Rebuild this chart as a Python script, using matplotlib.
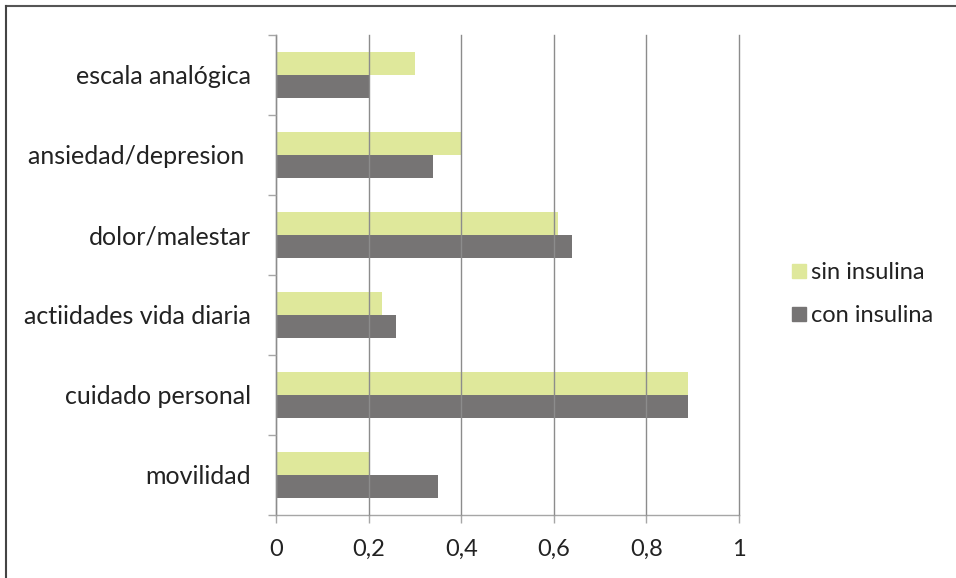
import numpy as np
import matplotlib.pyplot as plt
from matplotlib.lines import Line2D

plt.rcParams['font.family'] = ['Lato', 'DejaVu Sans']

# categorias de abajo hacia arriba
categorias = ["movilidad", "cuidado personal", "actiidades vida diaria",
              "dolor/malestar", "ansiedad/depresion ", "escala analógica"]
sin_insulina = [0.20, 0.89, 0.23, 0.61, 0.40, 0.30]
con_insulina = [0.35, 0.89, 0.26, 0.64, 0.34, 0.20]
xticks = [0, 0.2, 0.4, 0.6, 0.8, 1]
xlabels = ["0", "0,2", "0,4", "0,6", "0,8", "1"]

verde = "#dfe89b"
gris = "#767474"
fs = 17

fig = plt.figure(figsize=(9.56, 5.78), dpi=100)
ax = fig.add_axes([276/956, 1-515/578, 463/956, 480/578])

y = np.arange(len(categorias))
h = 0.285
ax.barh(y + h/2, sin_insulina, height=h, color=verde, label="sin insulina", zorder=1)
ax.barh(y - h/2, con_insulina, height=h, color=gris, label="con insulina", zorder=1)

ax.set_xlim(0, 1)
ax.set_ylim(-0.5, len(categorias) - 0.5)
ax.set_xticks(xticks)
ax.set_xticklabels(xlabels, fontsize=fs, color="#222222")
ax.xaxis.grid(True, color="#8c8c8c", linewidth=1.0, zorder=2)
ax.set_axisbelow(False)
for gl in ax.get_xgridlines():
    gl.set_clip_on(False)

# etiquetas centradas, marcas entre categorias
ax.set_yticks(np.arange(-0.5, len(categorias)), minor=False)
ax.set_yticklabels([])
ax.set_yticks(y, minor=True)
ax.set_yticklabels(categorias, minor=True, fontsize=18, color="#222222")
ax.tick_params(axis='y', which='minor', length=0, pad=18)
ax.tick_params(axis='y', which='major', length=6, color="#a6a6a6", width=1)
ax.tick_params(axis='x', length=6, color="#a6a6a6", width=1, pad=11)

for s in ["top", "right"]:
    ax.spines[s].set_visible(False)
for s in ["left", "bottom"]:
    ax.spines[s].set_color("#a6a6a6")
    ax.spines[s].set_linewidth(1)

handles = [Line2D([], [], marker='s', linestyle='', markersize=10, color=verde),
           Line2D([], [], marker='s', linestyle='', markersize=10, color=gris)]
fig.legend(handles, ["sin insulina", "con insulina"], loc='center left',
           bbox_to_anchor=(766/956, 1-294/578), frameon=False, fontsize=fs,
           handletextpad=0.0, labelspacing=0.95, handlelength=1.0,
           labelcolor="#222222")

# borde del grafico
fig.add_artist(Line2D([6/956, 1], [1-6/578, 1-6/578], color="#555555", lw=1.5))
fig.add_artist(Line2D([6/956, 6/956], [0, 1-6/578], color="#444444", lw=1.5))

fig.savefig("out.png", dpi=100)
